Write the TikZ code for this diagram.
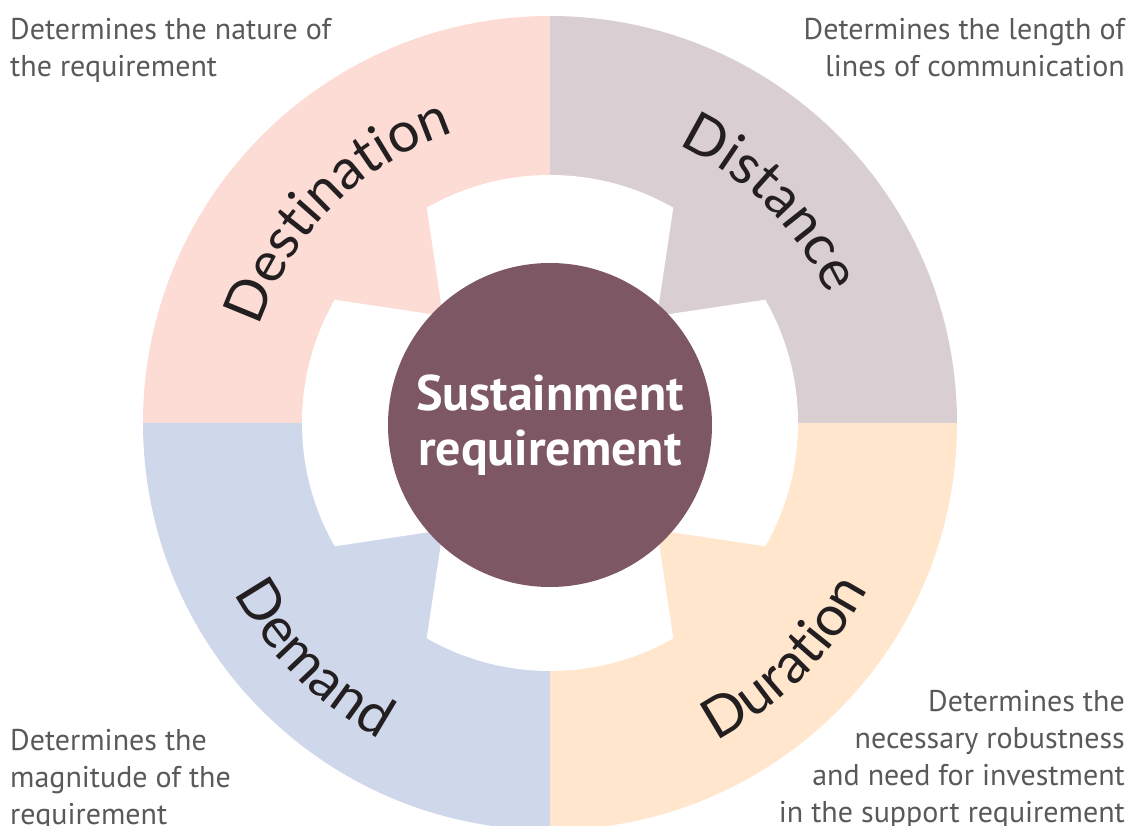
\documentclass[tikz,border=0pt]{standalone}
\usepackage{fontspec}
\setmainfont{PT Sans}
\newfontfamily\ringfont{Lato}
\usetikzlibrary{decorations.text}

\definecolor{destFill}{HTML}{FCDCD4}
\definecolor{distFill}{HTML}{D9CED1}
\definecolor{demFill}{HTML}{CFD7EB}
\definecolor{durFill}{HTML}{FFE6CC}
\definecolor{coreFill}{HTML}{7E5765}
\definecolor{noteGray}{HTML}{58595B}
\definecolor{labelInk}{HTML}{231F20}

\begin{document}
\begin{tikzpicture}[
    x=1pt, y=1pt,
    % --- stiluri ---
    note/.style={
            font=\fontsize{30}{37}\selectfont,
            text=noteGray,
            inner sep=0pt
        },
    core/.style={
            circle,
            fill=coreFill,
            text=white,
            minimum size=324pt,
            inner sep=0pt,
            align=center,
            font=\bfseries\fontsize{50}{55}\selectfont
        },
    ringText/.style={
            decorate,
            decoration={text along path, text align=center,
                    text={|\ringfont\fontsize{56}{60}\selectfont\color{labelInk}|#1}}
        }
    ]

    \useasboundingbox (-550,-403) rectangle (581,423);

    % 1. Cele patru sectoare
    \fill[destFill] (0,0) -- (180:407) arc[start angle=180, end angle=90, radius=407] -- cycle;
    \fill[distFill] (0,0) -- (90:407) arc[start angle=90, end angle=0, radius=407] -- cycle;
    \fill[durFill] (0,0) -- (0:407) arc[start angle=0, end angle=-90, radius=407] -- cycle;
    \fill[demFill] (0,0) -- (-90:407) arc[start angle=-90, end angle=-180, radius=407] -- cycle;

    % 2. Crucea alba din jurul cercului
    \begin{scope}
        \clip (0,0) circle (248);
        \foreach \a in {0,90,180,270}
        \fill[white, rotate=\a] (-91,0) -- (91,0) -- (136,300) -- (-136,300) -- cycle;
    \end{scope}

    % 3. Cercul central
    \node[core] (core) at (0,-2) {Sustainment\\requirement};

    % Etichetele de pe inel
    \path[ringText=Destination] (180:306) arc[start angle=180, end angle=90, radius=306];
    \path[ringText=Distance] (90:306) arc[start angle=90, end angle=0, radius=306];
    \path[ringText=Demand] (180:359) arc[start angle=180, end angle=270, radius=359];
    \path[ringText=Duration] (270:359) arc[start angle=270, end angle=360, radius=359];

    % Notele din colturi
    \node[note, anchor=north west, align=left] (natureNote) at (-540,405)
        {Determines the nature of\\the requirement};
    \node[note, anchor=north east, align=right] (lengthNote) at (575,405)
        {Determines the length of\\lines of communication};
    \node[note, anchor=north west, align=left] (magnitudeNote) at (-540,-306)
        {Determines the\\magnitude of the\\requirement};
    \node[note, anchor=north east, align=right] (robustNote) at (575,-267)
        {Determines the\\necessary robustness\\and need for investment\\in the support requirement};

\end{tikzpicture}
\end{document}
